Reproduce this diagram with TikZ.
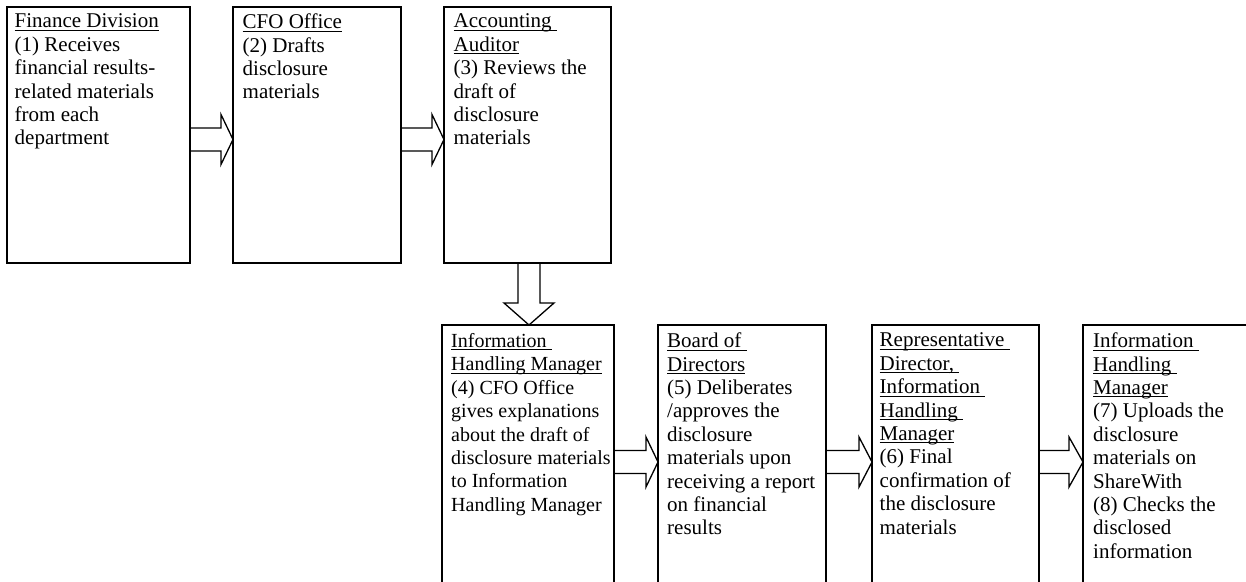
\documentclass[tikz,border=0pt]{standalone}
\usepackage{fontspec}
\setmainfont{Liberation Serif}
\usetikzlibrary{calc}
\newcommand\ulx[1]{\setbox0\hbox{#1}\rlap{\rule[-2.8pt]{\wd0}{0.9pt}}\box0}
\newcommand\rarr[4]{%
  \draw[barrow] let \p1=(#1.east), \p2=(#2.west) in
    (\x1,-#3pt+11.5pt) -- (\x2-#4pt,-#3pt+11.5pt) -- (\x2-#4pt,-#3pt+25pt) -- (\x2,-#3pt)
    -- (\x2-#4pt,-#3pt-25pt) -- (\x2-#4pt,-#3pt-11.5pt) -- (\x1,-#3pt-11.5pt);}
\tikzset{
  box/.style={draw, line width=1.8pt, rectangle, inner sep=0pt, outer sep=0pt, anchor=north west, minimum height=256pt},
  txt/.style={anchor=north west, align=left, inner sep=0pt, font=\fontsize{21}{23.4}\selectfont},
  smalltxt/.style={txt, font=\fontsize{20}{23.4}\selectfont},
  barrow/.style={draw, line width=1.3pt, line join=miter}
}
\begin{document}
\begin{tikzpicture}[x=1pt,y=-1pt]
\useasboundingbox (0,0) rectangle (1246,581);
\fill[white] (0,0) rectangle (1246,581);
\clip (0,0) rectangle (1246,581);
% boxes
\node[box, minimum width=183pt] (b1) at (7,7) {};
\node[box, minimum width=168pt] (b2) at (233,7) {};
\node[box, minimum width=167pt] (b3) at (444,7) {};
\node[box, minimum width=172pt, minimum height=300pt] (b4) at (442,325) {};
\node[box, minimum width=168pt, minimum height=300pt] (b5) at (658,325) {};
\node[box, minimum width=167pt, minimum height=300pt] (b6) at (872,325) {};
\node[box, minimum width=200pt, minimum height=300pt] (b7) at (1083,325) {};
% texts
\node[txt] (t1) at ([xshift=7.5pt,yshift=-6.7pt]b1.north west) {\ulx{Finance Division}\\(1) Receives\\financial results-\\related materials\\from each\\department};
\node[txt] (t2) at ([xshift=9.5pt,yshift=-6.7pt]b2.north west) {\ulx{CFO Office}\\(2) Drafts\\disclosure\\materials};
\node[txt] (t3) at ([xshift=9.5pt,yshift=-6.7pt]b3.north west) {\ulx{Accounting\ }\\\ulx{Auditor}\\(3) Reviews the\\draft of\\disclosure\\materials};
\node[smalltxt] (t4) at ([xshift=9pt,yshift=-8.3pt]b4.north west) {\ulx{Information\ }\\\ulx{Handling Manager}\\(4) CFO Office\\gives explanations\\about the draft of\\disclosure materials\\to Information\\Handling Manager};
\node[txt] (t5) at ([xshift=9pt,yshift=-7.7pt]b5.north west) {\ulx{Board of\ }\\\ulx{Directors}\\(5) Deliberates\\/approves the\\disclosure\\materials upon\\receiving a report\\on financial\\results};
\node[txt] (t6) at ([xshift=7.5pt,yshift=-7.7pt]b6.north west) {\ulx{Representative\ }\\\ulx{Director,\ }\\\ulx{Information\ }\\\ulx{Handling\ }\\\ulx{Manager}\\(6) Final\\confirmation of\\the disclosure\\materials};
\node[txt] (t7) at ([xshift=10pt,yshift=-7.7pt]b7.north west) {\ulx{Information\ }\\\ulx{Handling\ }\\\ulx{Manager}\\(7) Uploads the\\disclosure\\materials on\\ShareWith\\(8) Checks the\\disclosed\\information};
% arrows
\rarr{b1}{b2}{139.5}{12}
\rarr{b2}{b3}{139.5}{12}
\rarr{b4}{b5}{462}{12}
\rarr{b5}{b6}{462}{13}
\rarr{b6}{b7}{462}{14}
\draw[barrow] let \p1=(b3.south), \p2=(b4.north) in
  (518pt,\y1) -- (518pt,\y2+22pt) -- (504pt,\y2+22pt) -- (529pt,\y2)
  -- (554pt,\y2+22pt) -- (540pt,\y2+22pt) -- (540pt,\y1);
\end{tikzpicture}
\end{document}
